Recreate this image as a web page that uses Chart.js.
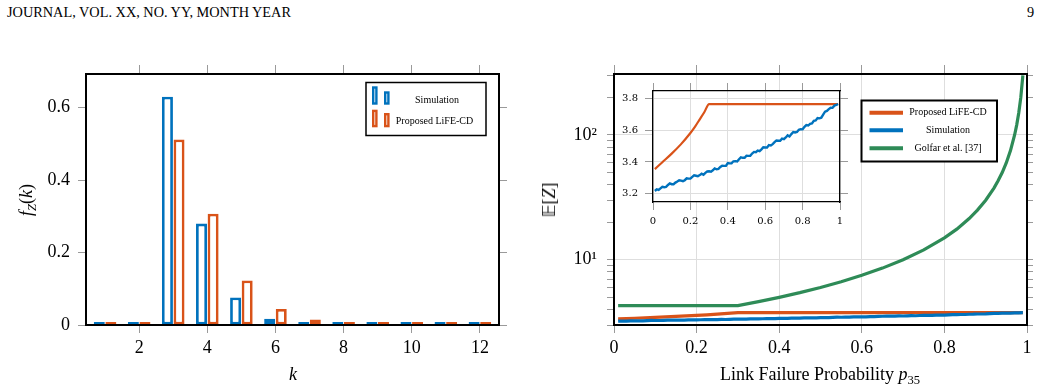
<!DOCTYPE html>
<html lang="en">
<head>
<meta charset="UTF-8">
<title>LiFE-CD: pmf of Z and mean of Z</title>
<script src="https://cdn.jsdelivr.net/npm/chart.js/dist/chart.umd.min.js"></script>
<style>
body { margin: 0; width: 1042px; height: 389px; background: #fff; position: relative; overflow: hidden;
       font-family: "Liberation Serif", serif; color: #000; }
canvas { position: absolute; }
#left  { left: 0; top: 50px; }
#right { left: 540px; top: 50px; }
#inset { left: 615px; top: 78px; }
.hdr { position: absolute; top: 3px; font-size: 14.3px; line-height: 18px; }
.lbl { position: absolute; font-size: 18px; white-space: nowrap; line-height: 20px;
       transform: translate(-50%, -50%); }
.rot { transform: translate(-50%, -50%) rotate(-90deg); }
sub { font-size: 70%; vertical-align: -0.3em; line-height: 0; }
</style>
</head>
<body>
<div class="hdr" style="left:7px">JOURNAL, VOL. XX, NO. YY, MONTH YEAR</div>
<div class="hdr" style="left:1027px">9</div>

<canvas id="left" width="520" height="339"></canvas>
<canvas id="right" width="502" height="339"></canvas>
<canvas id="inset" width="240" height="152"></canvas>

<!-- axis titles -->
<div class="lbl rot" style="left:26px;top:200px"><i>f</i><sub><i>Z</i></sub>(<i>k</i>)</div>
<div class="lbl" style="left:293px;top:374px"><i>k</i></div>
<div class="lbl rot" style="left:549px;top:200px">𝔼[<i>Z</i>]</div>
<div class="lbl" style="left:820px;top:374px">Link Failure Probability <i>p</i><sub>35</sub></div>

<script>
// ---------- left: pmf of Z ----------
const kValues = [1, 2, 3, 4, 5, 6, 7, 8, 9, 10, 11, 12];
const simPmf  = [0.002, 0.002, 0.630, 0.280, 0.076, 0.017, 0.004, 0.002, 0.002, 0.001, 0.001, 0.001];
const lifePmf = [0.002, 0.002, 0.512, 0.307, 0.123, 0.044, 0.015, 0.005, 0.003, 0.002, 0.002, 0.002];
const kTicks = [2, 4, 6, 8, 10, 12];
const pmfTicks = [0, 0.2, 0.4, 0.6];

// ---------- right: E[Z] vs p35 ----------
const simP = [0.01, 0.02, 0.03, 0.04, 0.05, 0.06, 0.07, 0.08, 0.09, 0.10,
              0.11, 0.12, 0.13, 0.14, 0.15, 0.16, 0.17, 0.18, 0.19, 0.20,
              0.21, 0.22, 0.23, 0.24, 0.25, 0.26, 0.27, 0.28, 0.29, 0.30,
              0.31, 0.32, 0.33, 0.34, 0.35, 0.36, 0.37, 0.38, 0.39, 0.40,
              0.41, 0.42, 0.43, 0.44, 0.45, 0.46, 0.47, 0.48, 0.49, 0.50,
              0.51, 0.52, 0.53, 0.54, 0.55, 0.56, 0.57, 0.58, 0.59, 0.60,
              0.61, 0.62, 0.63, 0.64, 0.65, 0.66, 0.67, 0.68, 0.69, 0.70,
              0.71, 0.72, 0.73, 0.74, 0.75, 0.76, 0.77, 0.78, 0.79, 0.80,
              0.81, 0.82, 0.83, 0.84, 0.85, 0.86, 0.87, 0.88, 0.89, 0.90,
              0.91, 0.92, 0.93, 0.94, 0.95, 0.96, 0.97, 0.98, 0.99];
const simMean = [3.217, 3.227, 3.224, 3.234, 3.244, 3.241, 3.243, 3.255, 3.265, 3.260,
                 3.260, 3.270, 3.277, 3.285, 3.282, 3.279, 3.285, 3.297, 3.295, 3.295,
                 3.306, 3.316, 3.313, 3.310, 3.317, 3.326, 3.319, 3.331, 3.340, 3.341,
                 3.339, 3.347, 3.359, 3.354, 3.356, 3.368, 3.376, 3.375, 3.375, 3.393,
                 3.391, 3.391, 3.404, 3.405, 3.403, 3.417, 3.429, 3.426, 3.426, 3.439,
                 3.438, 3.439, 3.453, 3.463, 3.461, 3.471, 3.468, 3.479, 3.492, 3.491,
                 3.491, 3.506, 3.503, 3.512, 3.524, 3.535, 3.533, 3.533, 3.546, 3.543,
                 3.554, 3.567, 3.560, 3.575, 3.588, 3.585, 3.588, 3.602, 3.606, 3.605,
                 3.621, 3.632, 3.629, 3.640, 3.642, 3.659, 3.661, 3.676, 3.674, 3.678,
                 3.698, 3.716, 3.721, 3.732, 3.741, 3.740, 3.754, 3.758, 3.764];
const lifeP    = [0.01, 0.05, 0.10, 0.15, 0.20, 0.225, 0.25, 0.275, 0.30, 0.99];
const lifeMean = [3.355, 3.398, 3.452, 3.512, 3.582, 3.622, 3.668, 3.714, 3.764, 3.764];
const golfarP    = [0.01, 0.30, 0.35, 0.40, 0.45, 0.50, 0.55, 0.60, 0.65, 0.70, 0.75, 0.80, 0.83,
                    0.86, 0.88, 0.90, 0.92, 0.93, 0.94, 0.95, 0.96, 0.97, 0.975, 0.98, 0.985, 0.99];
const golfarMean = [4.29, 4.29, 4.62, 5.00, 5.45, 6.00, 6.67, 7.50, 8.57, 10.0, 12.0, 15.0, 17.6,
                    21.4, 25.0, 30.0, 37.5, 42.9, 50.0, 60.0, 75.0, 100, 120, 150, 200, 300];
const pTicks = [0, 0.2, 0.4, 0.6, 0.8, 1];
const meanTicks = [3, 4, 5, 6, 7, 8, 9, 10, 20, 30, 40, 50, 60, 70, 80, 90, 100, 200, 300];
const insetMeanTicks = [3.2, 3.4, 3.6, 3.8];

const BLUE = '#0072BD', ORANGE = '#D95319', GREEN = '#2E8B57';
const TICK = '#9a9a9a', GRID = '#dedede';
const tickFont = { family: 'Liberation Serif', size: 18 };
const smallFont = { family: 'DejaVu Serif', size: 10 };

const pts = (xs, ys) => xs.map((x, i) => ({ x: x, y: ys[i] }));
const setTicks = list => s => { s.ticks = list.map(v => ({ value: v })); };

// axis that only carries mirrored tick marks (top / right)
function mirrorAxis(base, pos, size, tickLength, list) {
    return Object.assign({}, base, {
        position: pos,
        grid: { drawOnChartArea: false, tickLength: tickLength, tickColor: TICK, offset: false },
        border: { color: '#000', width: 2 },
        ticks: { display: false, autoSkip: false },
        afterBuildTicks: setTicks(list),
        afterFit: s => { if (pos === 'top') s.height = size; else s.width = size; }
    });
}

// outlined bar used by the left legend
function outlineBar(ctx, x0, y0, x1, y1, lw) {
    ctx.lineWidth = lw;
    ctx.strokeRect(x0 + lw / 2, y0 + lw / 2, x1 - x0 - lw, y1 - y0 - lw);
}

const leftLegend = {
    id: 'leftLegend',
    afterDraw(chart) {
        const ctx = chart.ctx;
        const ds = chart.data.datasets;
        ctx.save();
        ctx.fillStyle = '#fff';
        ctx.fillRect(366, 32.5, 120, 53);
        ctx.strokeStyle = '#000';
        ctx.lineWidth = 1.5;
        ctx.strokeRect(366, 32.5, 120, 53);
        const rows = [{ y0: 36.3, y1: 54.7, y2: 41.3, ty: 50.3, tx: 437 },
                      { y0: 59.7, y1: 77.3, y2: 63, ty: 71.3, tx: 434.5 }];
        rows.forEach((r, i) => {
            ctx.strokeStyle = ds[i].borderColor;
            outlineBar(ctx, 372, r.y0, 377.6, r.y1, 2.4);
            outlineBar(ctx, 384, r.y2, 389.6, r.y1, 2.4);
            ctx.fillStyle = '#000';
            ctx.font = '10px "Liberation Serif"';
            ctx.textAlign = 'center';
            ctx.textBaseline = 'middle';
            ctx.fillText(ds[i].label, r.tx, r.ty);
        });
        ctx.restore();
    }
};

const rightLegend = {
    id: 'rightLegend',
    afterDraw(chart) {
        const ctx = chart.ctx;
        const ds = chart.data.datasets;
        const order = [1, 0, 2];       // Proposed, Simulation, Golfar
        const ys = [62.7, 80.3, 98.3];
        ctx.save();
        ctx.fillStyle = '#fff';
        ctx.fillRect(321.5, 50.5, 135.5, 61);
        ctx.strokeStyle = '#000';
        ctx.lineWidth = 2;
        ctx.strokeRect(321.5, 50.5, 135.5, 61);
        order.forEach((di, i) => {
            ctx.strokeStyle = ds[di].borderColor;
            ctx.lineWidth = 4;
            ctx.beginPath();
            ctx.moveTo(329.5, ys[i]);
            ctx.lineTo(363, ys[i]);
            ctx.stroke();
            ctx.fillStyle = '#000';
            ctx.font = '10px "Liberation Serif"';
            ctx.textAlign = 'center';
            ctx.textBaseline = 'middle';
            ctx.fillText(ds[di].label, 408, ys[i]);
        });
        ctx.restore();
    }
};

const insetBg = {
    id: 'insetBg',
    beforeDraw(chart) {
        const { ctx, chartArea: a } = chart;
        ctx.save();
        ctx.fillStyle = '#fff';
        ctx.fillRect(a.left, a.top, a.right - a.left, a.bottom - a.top);
        ctx.restore();
    }
};

const common = {
    responsive: false,
    animation: false,
    layout: { padding: 0 },
    plugins: { legend: { display: false }, tooltip: { enabled: false } }
};

// ---------- left chart ----------
const kAxis = { type: 'linear', min: 0.44, max: 12.56, offset: false };
const pmfAxis = { type: 'linear', min: 0, max: 0.693 };
const barDs = (label, ys, color) => ({
    label: label, data: pts(kValues, ys), borderColor: color, backgroundColor: '#fff',
    borderWidth: 2.8, borderSkipped: false, minBarLength: 3,
    categoryPercentage: 0.68, barPercentage: 0.95
});
new Chart(document.getElementById('left'), {
    type: 'bar',
    data: {
        datasets: [
            barDs('Simulation', simPmf, BLUE),
            barDs('Proposed LiFE-CD', lifePmf, ORANGE)
        ]
    },
    options: Object.assign({}, common, {
        scales: {
            x: Object.assign({}, kAxis, {
                position: 'bottom',
                grid: { drawOnChartArea: false, tickLength: 8, tickColor: TICK, offset: false },
                border: { color: '#000', width: 2, z: 1 },
                afterBuildTicks: setTicks(kTicks),
                ticks: { font: tickFont, color: '#000', padding: 4, maxRotation: 0, autoSkip: false,
                         callback: v => String(v) },
                afterFit: s => { s.height = 64; }
            }),
            x2: mirrorAxis(kAxis, 'top', 24, 9, kTicks),
            y: Object.assign({}, pmfAxis, {
                position: 'left',
                grid: { drawOnChartArea: false, tickLength: 8, tickColor: TICK },
                border: { color: '#000', width: 2 },
                afterBuildTicks: setTicks(pmfTicks),
                ticks: { font: tickFont, color: '#000', padding: 8, autoSkip: false,
                         callback: v => v === 0 ? '0' : v.toFixed(1) },
                afterFit: s => { s.width = 86; }
            }),
            y2: mirrorAxis(pmfAxis, 'right', 21, 8, pmfTicks)
        }
    }),
    plugins: [leftLegend]
});

// ---------- right chart ----------
const pAxis = { type: 'linear', min: 0, max: 1 };
const meanAxis = { type: 'logarithmic', min: 3, max: 308 };
const lineDs = (label, xs, ys, color, w) => ({
    label: label, data: pts(xs, ys), borderColor: color, backgroundColor: color,
    borderWidth: w, pointRadius: 0, tension: 0, fill: false
});
new Chart(document.getElementById('right'), {
    type: 'line',
    data: {
        datasets: [
            lineDs('Simulation', simP, simMean, BLUE, 3.2),
            lineDs('Proposed LiFE-CD', lifeP, lifeMean, ORANGE, 3.2),
            lineDs('Golfar et al. [37]', golfarP, golfarMean, GREEN, 3.2)
        ]
    },
    options: Object.assign({}, common, {
        scales: {
            x: Object.assign({}, pAxis, {
                position: 'bottom',
                grid: { tickLength: 8, tickColor: TICK,
                        color: c => (c.tick && c.tick.value > 0 && c.tick.value < 1) ? GRID : 'rgba(0,0,0,0)' },
                border: { color: '#000', width: 2 },
                afterBuildTicks: setTicks(pTicks),
                ticks: { font: tickFont, color: '#000', padding: 4, maxRotation: 0, autoSkip: false,
                         callback: v => String(v) },
                afterFit: s => { s.height = 64; }
            }),
            x2: mirrorAxis(pAxis, 'top', 24, 9, pTicks),
            y: Object.assign({}, meanAxis, {
                position: 'left',
                grid: { tickLength: 7, tickColor: TICK,
                        color: c => (c.tick && (c.tick.value === 10 || c.tick.value === 100)) ? GRID : 'rgba(0,0,0,0)' },
                border: { color: '#000', width: 2 },
                afterBuildTicks: setTicks(meanTicks),
                ticks: { font: tickFont, color: '#000', padding: 10, autoSkip: false,
                         callback: v => v === 10 ? '10¹' : (v === 100 ? '10²' : '') },
                afterFit: s => { s.width = 74; }
            }),
            y2: mirrorAxis(meanAxis, 'right', 15, 6, meanTicks)
        }
    }),
    plugins: [rightLegend]
});

// ---------- inset ----------
const insetP = { type: 'linear', min: 0, max: 1 };
const insetMean = { type: 'linear', min: 3.148, max: 3.846 };
const insetMirror = (base, pos, size, list) => {
    const a = mirrorAxis(base, pos, size, 8, list);
    a.border = { color: '#000', width: 1.3 };
    return a;
};
const insetLife = lineDs('Proposed LiFE-CD', lifeP, lifeMean, ORANGE, 2.2);
insetLife.cubicInterpolationMode = 'monotone';
new Chart(document.getElementById('inset'), {
    type: 'line',
    data: {
        datasets: [
            lineDs('Simulation', simP, simMean, BLUE, 2.4),
            insetLife
        ]
    },
    options: Object.assign({}, common, {
        scales: {
            x: Object.assign({}, insetP, {
                position: 'bottom',
                grid: { tickLength: 8, tickColor: TICK, color: GRID },
                border: { color: '#000', width: 1.3 },
                afterBuildTicks: setTicks(pTicks),
                ticks: { font: smallFont, color: '#000', padding: 5, maxRotation: 0, autoSkip: false,
                         callback: v => String(v) },
                afterFit: s => { s.height = 28; }
            }),
            x2: insetMirror(insetP, 'top', 13, pTicks),
            y: Object.assign({}, insetMean, {
                position: 'left',
                grid: { tickLength: 8, tickColor: TICK, color: GRID },
                border: { color: '#000', width: 1.3 },
                afterBuildTicks: setTicks(insetMeanTicks),
                ticks: { font: smallFont, color: '#000', padding: 7, autoSkip: false,
                         callback: v => v.toFixed(1) },
                afterFit: s => { s.width = 38; }
            }),
            y2: insetMirror(insetMean, 'right', 15, insetMeanTicks)
        }
    }),
    plugins: [insetBg]
});
</script>
</body>
</html>
